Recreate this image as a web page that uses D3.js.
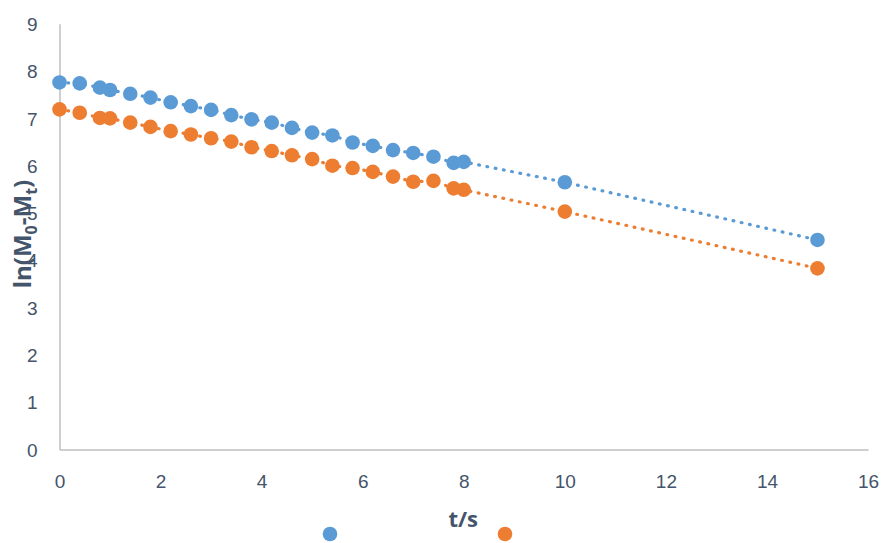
<!DOCTYPE html>
<html>
<head>
<meta charset="utf-8">
<script src="https://cdn.jsdelivr.net/npm/d3@7"></script>
<style>
  html, body { margin: 0; padding: 0; background: #fff; }
  svg { display: block; font-family: "Open Sans", "Liberation Sans", sans-serif; }
</style>
</head>
<body>
<svg id="chart" width="886" height="543"></svg>
<script>
// Sampling times (s)
const times = [0, 0.4, 0.8, 1.0, 1.4, 1.8, 2.2, 2.6, 3.0, 3.4, 3.8, 4.2, 4.6, 5.0,
               5.4, 5.8, 6.2, 6.6, 7.0, 7.4, 7.8, 8.0, 10, 15];
// ln(M0 - Mt) for the two runs
const seriesA = [7.76, 7.74, 7.65, 7.60, 7.52, 7.44, 7.34, 7.26, 7.18, 7.07, 6.98, 6.91,
                 6.80, 6.70, 6.64, 6.49, 6.42, 6.33, 6.27, 6.19, 6.06, 6.08, 5.65, 4.43];
const seriesB = [7.19, 7.12, 7.01, 7.00, 6.91, 6.82, 6.73, 6.66, 6.58, 6.51, 6.39, 6.31,
                 6.22, 6.14, 6.00, 5.95, 5.87, 5.77, 5.66, 5.68, 5.52, 5.49, 5.03, 3.83];
const xTicks = [0, 2, 4, 6, 8, 10, 12, 14, 16];
const yTicks = [0, 1, 2, 3, 4, 5, 6, 7, 8, 9];
const colors = ["#5B9BD5", "#ED7D31"];

const svg = d3.select("#chart");
const plotLeft = 59.5, plotRight = 868, plotTop = 23.8, plotBottom = 449.5;

const x = d3.scaleLinear().domain([0, 16]).range([plotLeft, plotRight]);
const y = d3.scaleLinear().domain([0, 9]).range([plotBottom, plotTop]);

const textColor = "#44546A";
const axisColor = "#BFBFBF";

// Axes (lines only, labels without tick marks)
const xAxis = svg.append("g").attr("transform", `translate(0,${plotBottom})`)
  .call(d3.axisBottom(x).tickValues(xTicks).tickSize(0).tickPadding(38).tickFormat(d3.format("d")));
xAxis.select(".domain").attr("stroke", axisColor).attr("stroke-width", 1.5);
xAxis.selectAll("text").attr("fill", textColor).attr("font-size", 19).attr("dy", "0");

const yAxis = svg.append("g").attr("transform", `translate(${plotLeft},0)`)
  .call(d3.axisLeft(y).tickValues(yTicks).tickSize(0).tickPadding(22).tickFormat(d3.format("d")));
yAxis.select(".domain").attr("stroke", axisColor).attr("stroke-width", 1.5);
yAxis.selectAll("text").attr("fill", textColor).attr("font-size", 19).attr("dy", "0.35em");

// Dotted connecting lines and markers
const line = d3.line().x((d, i) => x(times[i])).y(d => y(d));
[seriesA, seriesB].forEach((s, k) => {
  svg.append("path").datum(s)
    .attr("d", line)
    .attr("fill", "none")
    .attr("stroke", colors[k])
    .attr("stroke-width", 3.2)
    .attr("stroke-linecap", "round")
    .attr("stroke-dasharray", "0.8 7.6");
});
[seriesA, seriesB].forEach((s, k) => {
  svg.append("g").selectAll("circle").data(s).join("circle")
    .attr("cx", (d, i) => x(times[i]))
    .attr("cy", d => y(d))
    .attr("r", 7.3)
    .attr("fill", colors[k]);
});

// Axis titles
svg.append("text")
  .attr("x", (plotLeft + plotRight) / 2 - 0.5).attr("y", 527)
  .attr("text-anchor", "middle")
  .attr("font-size", 22).attr("font-weight", "bold").attr("fill", textColor)
  .text("t/s");

const yTitle = svg.append("text")
  .attr("transform", "translate(31,234) rotate(-90)")
  .attr("text-anchor", "middle")
  .attr("font-size", 24).attr("font-weight", "bold").attr("fill", textColor);
yTitle.append("tspan").text("ln(M");
yTitle.append("tspan").attr("font-size", 16).attr("dy", 6).text("0");
yTitle.append("tspan").attr("dy", -6).text("-M");
yTitle.append("tspan").attr("font-size", 16).attr("dy", 6).text("t");
yTitle.append("tspan").attr("dy", -6).text(")");

// Legend markers (entries carry no text)
const legendX = [330, 505];
svg.append("g").selectAll("circle").data(colors).join("circle")
  .attr("cx", (d, i) => legendX[i]).attr("cy", 534).attr("r", 7.3)
  .attr("fill", d => d);
</script>
</body>
</html>
